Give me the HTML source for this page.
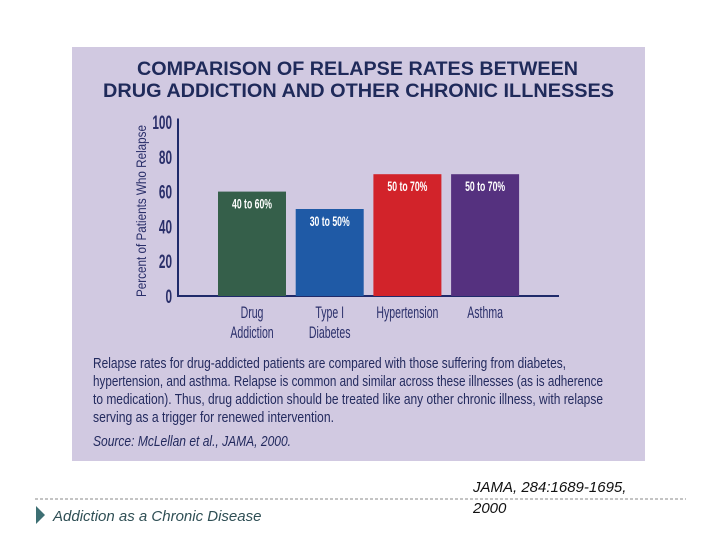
<!DOCTYPE html>
<html><head><meta charset="utf-8"><style>
body{margin:0;background:#fff;width:720px;height:540px;overflow:hidden;font-family:"Liberation Sans",sans-serif}
</style></head><body>
<svg width="720" height="540" xmlns="http://www.w3.org/2000/svg">
<rect x="72" y="47" width="573" height="414" fill="#d1c9e1"/>
<g fill="#1f2a5a" font-weight="bold" font-size="19">
<text x="137" y="75" textLength="441" lengthAdjust="spacingAndGlyphs">COMPARISON OF RELAPSE RATES BETWEEN</text>
<text x="103" y="97" textLength="511" lengthAdjust="spacingAndGlyphs">DRUG ADDICTION AND OTHER CHRONIC ILLNESSES</text>
</g>
<text transform="translate(146,297) rotate(-90)" font-size="14" fill="#2a2f6a" textLength="172" lengthAdjust="spacingAndGlyphs">Percent of Patients Who Relapse</text>
<g id="chart"></g>
<g fill="#232a5e" font-size="14.5">
<text x="93" y="368" textLength="473" lengthAdjust="spacingAndGlyphs">Relapse rates for drug-addicted patients are compared with those suffering from diabetes,</text>
<text x="93" y="386" textLength="510" lengthAdjust="spacingAndGlyphs">hypertension, and asthma. Relapse is common and similar across these illnesses (as is adherence</text>
<text x="93" y="404" textLength="510" lengthAdjust="spacingAndGlyphs">to medication). Thus, drug addiction should be treated like any other chronic illness, with relapse</text>
<text x="93" y="422" textLength="241" lengthAdjust="spacingAndGlyphs">serving as a trigger for renewed intervention.</text>
<text x="93" y="446" font-style="italic" textLength="198" lengthAdjust="spacingAndGlyphs">Source: McLellan et al., JAMA, 2000.</text>
</g>
<line x1="35" y1="499" x2="686" y2="499" stroke="#888" stroke-dasharray="3,2"/>
<polygon points="36,506 36,524 45,515" fill="#3d6f73"/>
<text x="53" y="521" font-size="15" font-style="italic" fill="#2f4f55">Addiction as a Chronic Disease</text>
<g font-size="15" font-style="italic" fill="#111">
<text x="473" y="492">JAMA, 284:1689-1695,</text>
<text x="473" y="513">2000</text>
</g>
</svg>
<script>
const categories=[["Drug","Addiction"],["Type I","Diabetes"],["Hypertension"],["Asthma"]];
const values=[60,50,70,70];
const valueLabels=["40 to 60%","30 to 50%","50 to 70%","50 to 70%"];
const colors=["#355f4a","#1f5aa6","#d2232a","#55317f"];
const yTicks=[0,20,40,60,80,100];
const NS="http://www.w3.org/2000/svg";
const g=document.getElementById('chart');
const y0=296,yPx=1.74,xStart=218,step=77.7,bw=68;
const y=v=>y0-v*yPx;
const x=i=>xStart+i*step;
const NARROW=0.62;
function el(t,a,p){const e=document.createElementNS(NS,t);for(const k in a)e.setAttribute(k,a[k]);(p||g).appendChild(e);return e;}
function narrowText(str,cx,cy,size,attrs,anchor){
 const t=el('text',Object.assign({x:0,y:0,'font-size':size,'text-anchor':anchor||'middle',transform:`translate(${cx},${cy}) scale(${NARROW},1)`},attrs));
 t.textContent=str;return t;
}
const ax=el('line',{x1:178,y1:y(102),x2:178,y2:y0,stroke:'#1f2a6a','stroke-width':2});


const bx=el('line',{x1:177,y1:y0,x2:559,y2:y0,stroke:'#1f2a6a','stroke-width':2});


yTicks.forEach(t=>{
 const tx=narrowText(String(t),172,y(t)+7,19,{fill:'#2a2f6a','font-weight':'bold'},'end');
 
 
});
values.forEach((v,i)=>{
 const r=el('rect',{x:x(i),y:y(v),width:bw,height:y0-y(v),fill:colors[i]});
 
 
 const l=narrowText(valueLabels[i],x(i)+bw/2,y(v)+17,14,{fill:'#fff','font-weight':'bold'});
 
 
 categories[i].forEach((c,j)=>{
  const t=narrowText(c,x(i)+bw/2,318+j*20,17,{fill:'#2a2f6a'});
  
  
 });
});
</script>
</body></html>
